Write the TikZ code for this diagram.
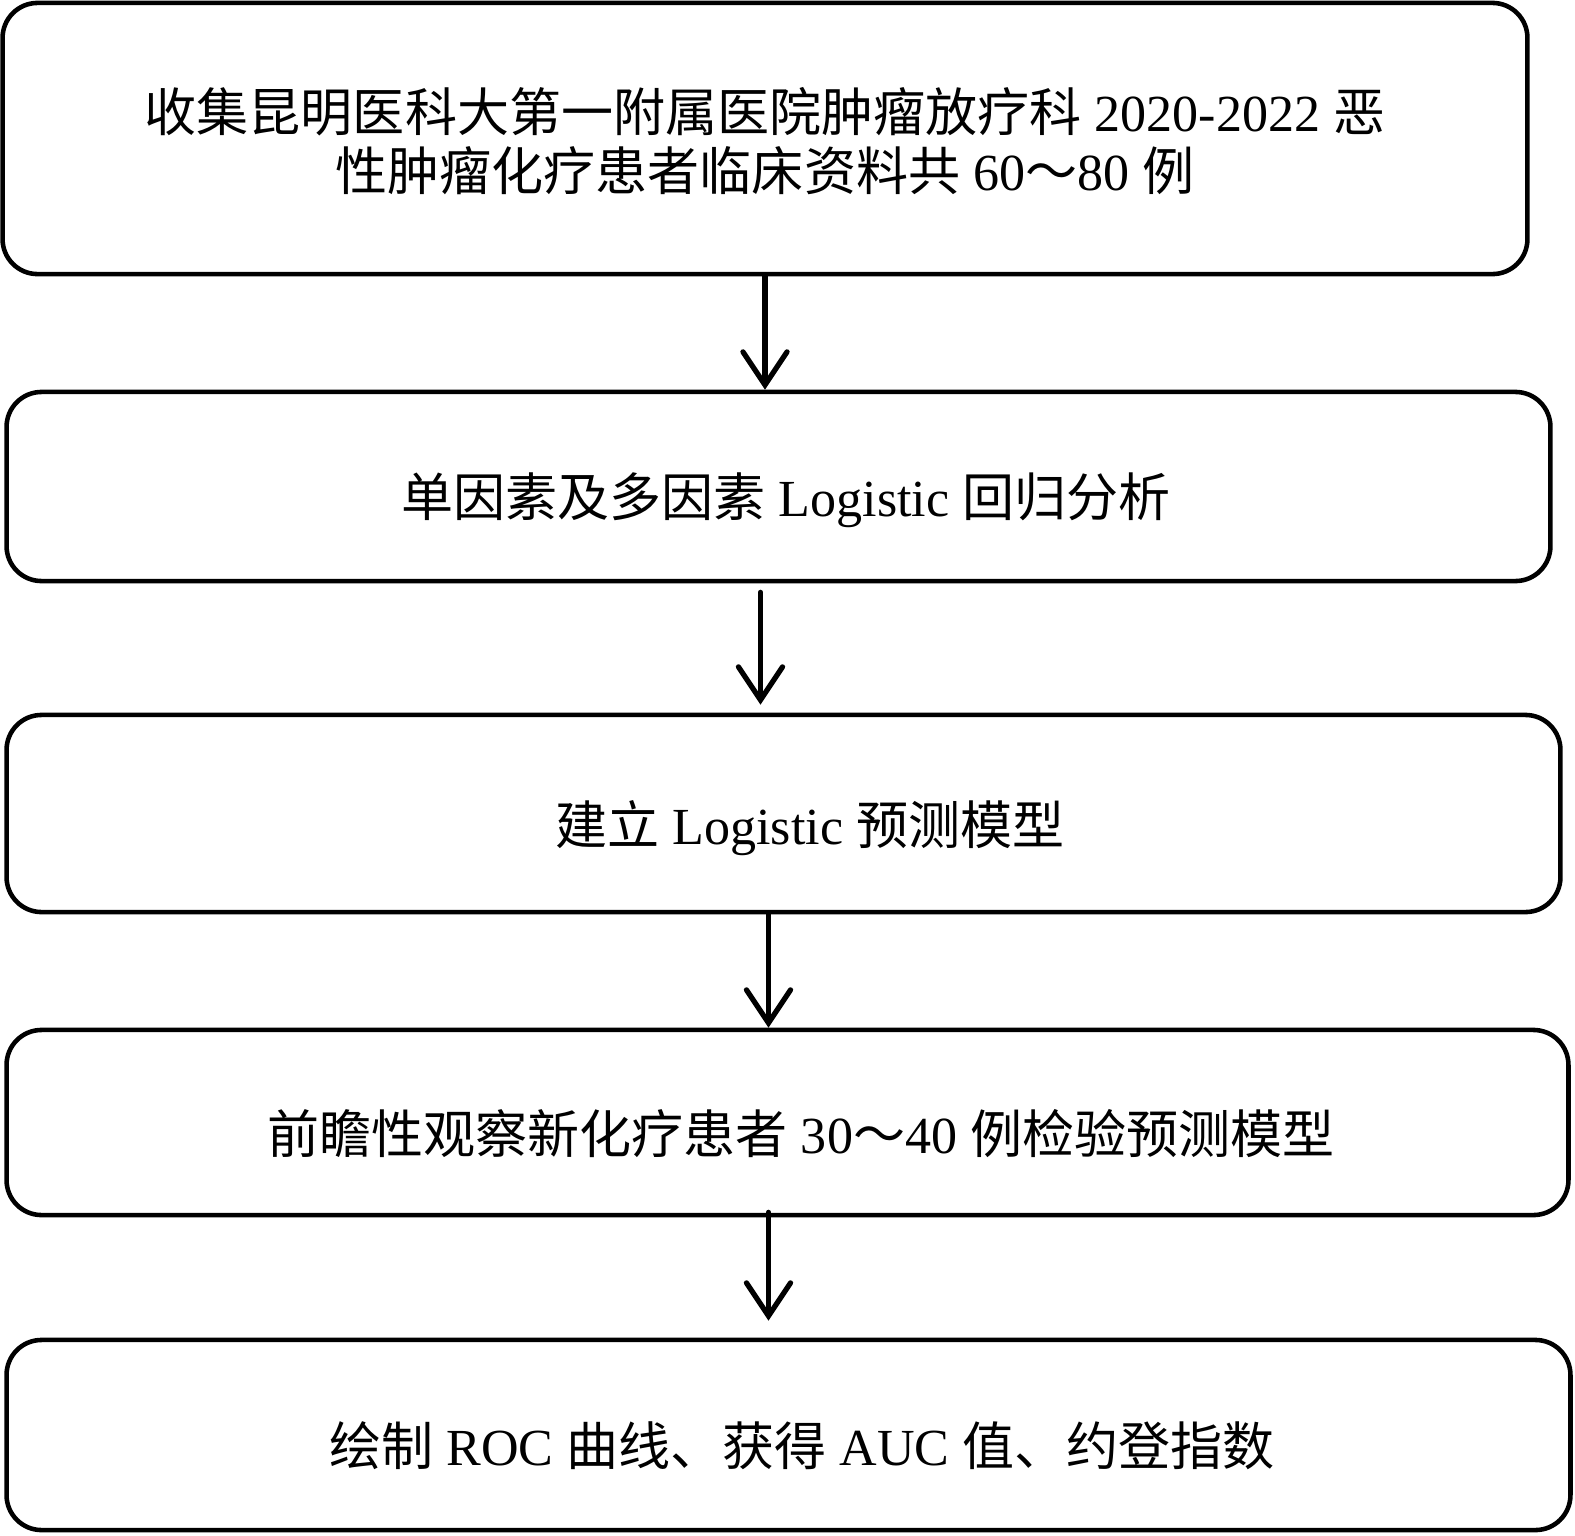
\documentclass[tikz,border=0pt]{standalone}
\usepackage{fontspec}
\setmainfont{Liberation Serif}
\newfontfamily\cjk{Noto Sans CJK SC}
\usetikzlibrary{arrows.meta,positioning}
\tikzset{box/.style={
            draw,
            line width=1.3pt,
            rounded corners=0.35cm,
            inner sep=0pt
        },
        boxtext/.style={
            inner sep=0pt,
            align=center,
            font=\fontsize{14.8}{17}\selectfont
        },
        connector/.style={
            line width=1.5pt,
            line cap=round,
            -{Straight Barb[length=3.3mm,width=4.4mm,line cap=round]}
        }
    }

\begin{document}
\begin{tikzpicture}[x=0.01cm,y=-0.01cm]
        \useasboundingbox (0,0) rectangle (1575,1536);

        \node[box,minimum width=15.24cm,minimum height=2.71cm] (collect) at (765,138.5) {};
        \node[box,minimum width=15.43cm,minimum height=1.89cm] (regress) at (778.5,486.5) {};
        \node[box,minimum width=15.53cm,minimum height=1.97cm] (model) at (783.5,813.5) {};
        \node[box,minimum width=15.61cm,minimum height=1.85cm] (verify) at (787.5,1122.5) {};
        \node[box,minimum width=15.63cm,minimum height=1.90cm] (roc) at (788.5,1435) {};

        \node[boxtext] (collect-text) at (765,141)
            {{\cjk 收集昆明医科大第一附属医院肿瘤放疗科} 2020-2022 {\cjk 恶}\\
             {\cjk 性肿瘤化疗患者临床资料共} 60{\cjk ～}80 {\cjk 例}};
        \node[boxtext] (regress-text) at (786,500)
            {{\cjk 单因素及多因素} Logistic {\cjk 回归分析}};
        \node[boxtext] (model-text) at (810,828)
            {{\cjk 建立} Logistic {\cjk 预测模型}};
        \node[boxtext] (verify-text) at (801,1134)
            {{\cjk 前瞻性观察新化疗患者} 30{\cjk ～}40 {\cjk 例检验预测模型}};
        \node[boxtext] (roc-text) at (802,1446)
            {{\cjk 绘制} ROC {\cjk 曲线、获得} AUC {\cjk 值、约登指数}};

        \draw[connector] (collect.south) -- (collect.south |- regress.north);
        \draw[connector] ([xshift=-0.18cm,yshift=-0.09cm]regress.south) -- ([xshift=-0.18cm,yshift=0.08cm]regress.south |- model.north);
        \draw[connector] ([xshift=-0.15cm]model.south) -- ([xshift=-0.15cm]model.south |- verify.north);
        \draw[connector] ([xshift=-0.19cm,yshift=0.05cm]verify.south) -- ([xshift=-0.19cm,yshift=0.17cm]verify.south |- roc.north);

    \end{tikzpicture}
\end{document}
